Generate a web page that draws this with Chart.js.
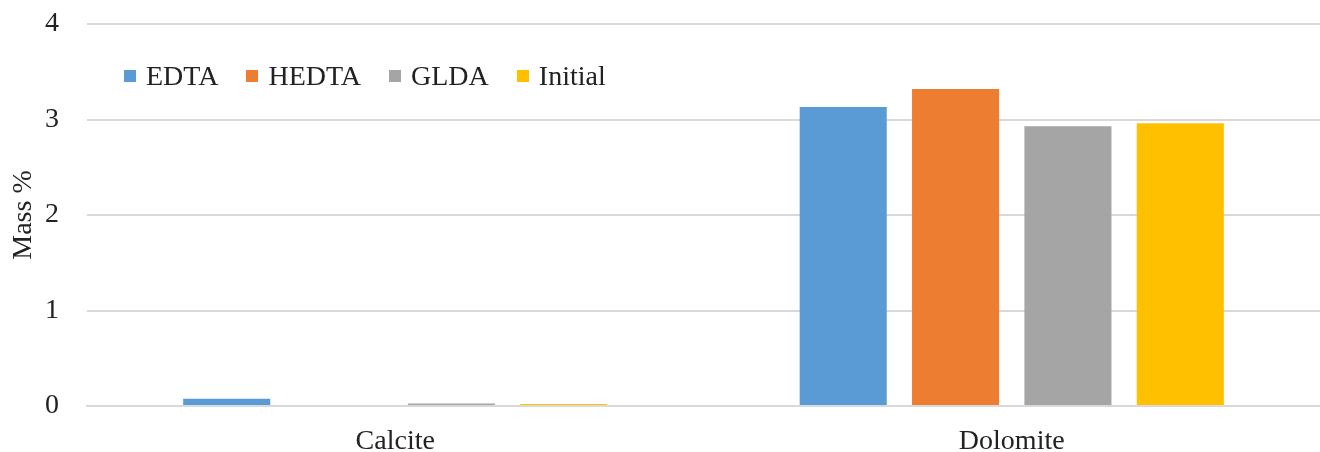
<!DOCTYPE html>
<html>
<head>
<meta charset="utf-8">
<script src="https://cdn.jsdelivr.net/npm/chart.js@4/dist/chart.umd.min.js"></script>
<style>
  html, body { margin: 0; padding: 0; background: #fff; }
  #wrap { position: relative; width: 1320px; height: 452px; }
  #chart { display: block; }
  #legend {
    position: absolute; left: 124px; top: 60px;
    font-family: "Liberation Serif", "Times New Roman", serif;
    font-size: 28px; color: #222; display: flex;
  }
  #legend span.item { display: flex; align-items: center; margin-right: 28px; }
  #legend span.box { display: inline-block; width: 12px; height: 12px; margin-right: 10px; }
</style>
</head>
<body>
<div id="wrap">
  <canvas id="chart" width="1320" height="452"></canvas>
  <div id="legend"></div>
</div>
<script>
const categories = ["Calcite", "Dolomite"];
const seriesNames = ["EDTA", "HEDTA", "GLDA", "Initial"];
const edta = [0.075, 3.13];
const hedta = [0, 3.32];
const glda = [0.025, 2.93];
const initial = [0.022, 2.96];
const yTicks = [0, 1, 2, 3, 4];
const colors = ["#5b9bd5", "#ed7d31", "#a5a5a5", "#ffc000"];

const values = [edta, hedta, glda, initial];
const serif = "'Liberation Serif', 'Times New Roman', serif";

// legend sits inside the plot, drawn as plain html over the canvas
const legend = document.getElementById("legend");
seriesNames.forEach((name, i) => {
  const item = document.createElement("span");
  item.className = "item";
  item.innerHTML = '<span class="box" style="background:' + colors[i] + '"></span>' + name;
  legend.appendChild(item);
});

new Chart(document.getElementById("chart"), {
  type: "bar",
  data: {
    labels: categories,
    datasets: seriesNames.map((name, i) => ({
      label: name,
      data: values[i],
      backgroundColor: colors[i],
      categoryPercentage: 0.729,
      barPercentage: 0.775
    }))
  },
  options: {
    responsive: false,
    animation: false,
    layout: { padding: { top: 24, right: 0, left: 0, bottom: 0 } },
    plugins: { legend: { display: false }, tooltip: { enabled: false } },
    scales: {
      x: {
        grid: { display: false },
        border: { color: "#d9d9d9", width: 2 },
        ticks: { color: "#222", font: { family: serif, size: 28 }, padding: 11 },
        afterFit: s => { s.height = 46; s.paddingLeft = 0; s.paddingRight = 0; }
      },
      y: {
        min: 0, max: 4,
        afterBuildTicks: s => { s.ticks = yTicks.map(v => ({ value: v })); },
        grid: { color: "#d9d9d9", lineWidth: 2, drawTicks: false },
        border: { display: false },
        ticks: { color: "#222", font: { family: serif, size: 28 }, padding: 28 },
        title: { display: true, text: "Mass %", color: "#222", font: { family: serif, size: 28 }, padding: { top: 7, bottom: 0 } },
        afterFit: s => { s.width = 87; s.paddingTop = 0; s.paddingBottom = 0; }
      }
    }
  }
});
</script>
</body>
</html>
